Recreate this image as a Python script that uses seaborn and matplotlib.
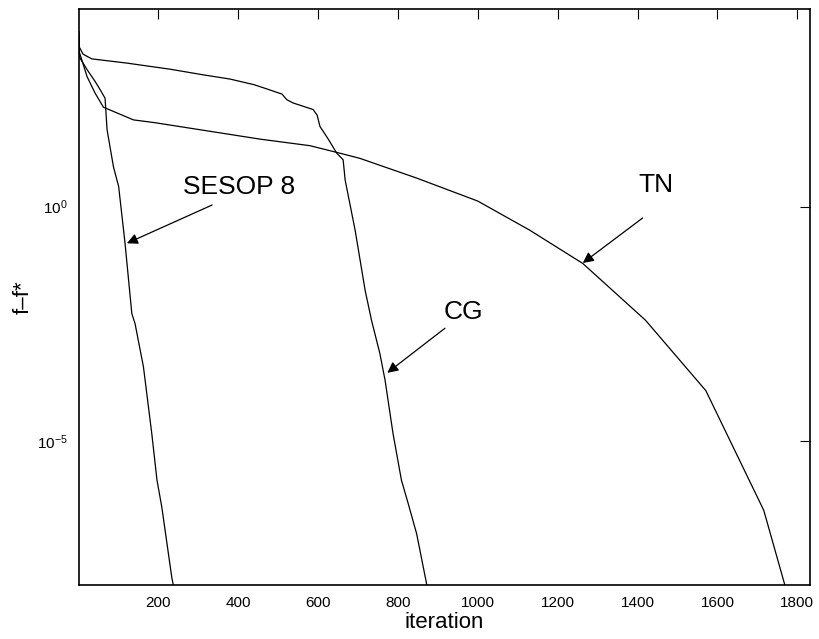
import numpy as np
import pandas as pd
import matplotlib
matplotlib.use('Agg')
import matplotlib.pyplot as plt
import seaborn as sns

# iterations and log10(f - f*)
cg_iter = [1, 2, 12, 34, 122, 230, 313, 380, 440, 472, 510, 522, 538, 588, 598, 605, 625, 647, 663, 668,
           693, 718, 734, 755, 768, 788, 809, 826, 847, 872, 876]
cg_log = [3.73, 3.41, 3.25, 3.15, 3.06, 2.93, 2.81, 2.72, 2.60, 2.51, 2.40, 2.28, 2.21, 2.07, 1.95, 1.71,
          1.45, 1.14, 1.00, 0.57, -0.50, -1.78, -2.42, -3.13, -3.70, -4.84, -5.83, -6.33, -6.97, -8.04, -8.2]

tn_iter = [1, 2, 22, 42, 63, 138, 192, 455, 580, 655, 705, 847, 1000, 1130, 1263,
           1420, 1571, 1716, 1780]
tn_log = [3.73, 3.31, 2.77, 2.42, 2.12, 1.85, 1.79, 1.44, 1.30, 1.14, 1.03, 0.61, 0.12, -0.50, -1.21,
          -2.42, -3.92, -6.47, -8.4]

sesop_iter = [1, 2, 22, 42, 55, 67, 72, 88, 101, 117, 134, 142, 163, 184, 197, 209, 234, 241]
sesop_log = [3.73, 3.20, 2.92, 2.67, 2.49, 2.31, 1.64, 0.85, 0.43, -0.78, -2.28, -2.49, -3.41, -4.84,
             -5.83, -6.40, -7.90, -8.2]

frames = []
for name, it, lg in [('CG', cg_iter, cg_log), ('TN', tn_iter, tn_log), ('SESOP 8', sesop_iter, sesop_log)]:
    frames.append(pd.DataFrame({'iteration': it, 'err': 10.0 ** np.array(lg), 'method': name}))
df = pd.concat(frames, ignore_index=True)

sns.set_style('white')
plt.rcParams['font.family'] = ['Liberation Sans', 'DejaVu Sans']
plt.rcParams['mathtext.fontset'] = 'custom'
plt.rcParams['mathtext.rm'] = 'Liberation Sans'
plt.rcParams['mathtext.it'] = 'Liberation Sans:italic'
plt.rcParams['text.color'] = 'black'
plt.rcParams['axes.labelcolor'] = 'black'

fig = plt.figure(figsize=(8.19, 6.39), dpi=100)
ax = fig.add_axes([0.0961, 0.084, 0.893, 0.9024])

sns.lineplot(data=df, x='iteration', y='err', units='method', estimator=None, sort=False,
             color='black', linewidth=0.9, legend=False, ax=ax)

ax.set_yscale('log')
ax.set_xlim(1, 1832)
ax.set_ylim(10 ** -8.07, 10 ** 4.22)
ax.set_xticks([200, 400, 600, 800, 1000, 1200, 1400, 1600, 1800])
ax.set_yticks([1e-5, 1e0])
ax.set_yticklabels(['$10^{-5}$', '$10^{0}$'])
ax.minorticks_off()
ax.tick_params(direction='in', length=7, width=0.8, top=True, right=True, labelsize=11, pad=8,
               colors='black')
for s in ax.spines.values():
    s.set_color('black')
    s.set_linewidth(1.2)

ax.set_xlabel('iteration', fontsize=16, labelpad=1)
ax.set_ylabel('f–f*', fontsize=16, labelpad=2)

arrow = dict(arrowstyle='-|>', color='black', lw=0.9, mutation_scale=16, shrinkA=0, shrinkB=0)
ax.annotate('', xy=(121.7, 10 ** -0.78), xytext=(335, 10 ** 0.036), arrowprops=arrow)
ax.text(402, 10 ** 0.42, 'SESOP 8', fontsize=19, ha='center', va='center')
ax.annotate('', xy=(773.6, 10 ** -3.54), xytext=(918, 10 ** -2.59), arrowprops=arrow)
ax.text(963, 10 ** -2.25, 'CG', fontsize=19, ha='center', va='center')
ax.annotate('', xy=(1263, 10 ** -1.20), xytext=(1413, 10 ** -0.24), arrowprops=arrow)
ax.text(1446, 10 ** 0.46, 'TN', fontsize=19, ha='center', va='center')

fig.savefig('out.png', dpi=100)
